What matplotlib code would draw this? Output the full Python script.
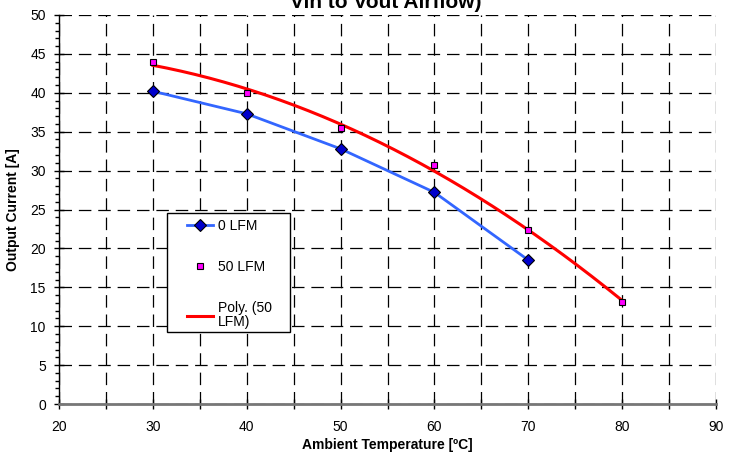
import numpy as np
import matplotlib
matplotlib.use("Agg")
import matplotlib.pyplot as plt
from matplotlib.ticker import MultipleLocator
from matplotlib.patches import Rectangle

plt.rcParams['font.family'] = ['Liberation Sans', 'DejaVu Sans']

temp_0 = [30, 40, 50, 60, 70]
curr_0 = [40.2, 37.3, 32.8, 27.2, 18.5]
temp_50 = [30, 40, 50, 60, 70, 80]
curr_50 = [43.9, 40.0, 35.5, 30.7, 22.4, 13.1]
labels = ["0 LFM", "50 LFM", "Poly. (50\nLFM)"]
title = "Vin to Vout Airflow)"
xlabel = "Ambient Temperature [ºC]"
ylabel = "Output Current [A]"

fig = plt.figure(figsize=(7.41, 4.53), dpi=100)
ax = fig.add_axes([59/741, 1-404/453, (716-59)/741, (404-15)/453])

coef = np.polyfit(temp_50, curr_50, 2)
xs = np.linspace(min(temp_50), max(temp_50), 200)
ys = np.polyval(coef, xs)

l0, = ax.plot(temp_0, curr_0, color='#3366FF', lw=2, marker='D', ms=6,
              mfc='#0000CC', mec='black', mew=0.8, zorder=4)
l50, = ax.plot(temp_50, curr_50, ls='none', marker='s', ms=5,
               mfc='#FF00FF', mec='black', mew=0.8, zorder=5)
lp, = ax.plot(xs, ys, color='#FF0000', lw=2.2, zorder=3)

ax.set_xlim(20, 90)
ax.set_ylim(0, 50)
ax.set_xticks(np.arange(20, 91, 5))
ax.set_xticklabels([str(v) if v % 10 == 0 else '' for v in range(20, 91, 5)])
ax.yaxis.set_major_locator(MultipleLocator(5))
ax.yaxis.set_minor_locator(MultipleLocator(1))
ax.tick_params(axis='both', which='major', direction='inout', length=7, width=1, labelsize=10, color='black')
ax.tick_params(axis='y', which='minor', direction='out', length=3, width=1, color='black')
ax.tick_params(axis='x', which='major', pad=8)
ax.tick_params(axis='y', which='major', pad=6)
ax.grid(True, which='major', color='black', ls=(0, (10, 5.5)), lw=0.9)
ax.set_axisbelow(True)

ax.spines['top'].set_visible(False)
ax.spines['right'].set_visible(False)
ax.spines['left'].set_color('black')
ax.spines['left'].set_linewidth(1)
ax.spines['bottom'].set_color('#777777')
ax.spines['bottom'].set_linewidth(2)

ax.set_xlabel(xlabel, fontsize=10, fontweight='bold', labelpad=3)
ax.set_ylabel(ylabel, fontsize=10, fontweight='bold', labelpad=7)

fig.text(0.52, 1-8/453, title, ha='center', va='baseline', fontsize=15, fontweight='bold')

# legend box
ax.add_patch(Rectangle(((167-59)/657, (404-332)/389), (290-167)/657, (332-213)/389,
                       transform=ax.transAxes, facecolor='white', edgecolor='black',
                       lw=1, zorder=6))
leg = ax.legend([l0, l50, lp], labels, loc='upper left',
                bbox_to_anchor=((187-59)/657, (404-219)/389),
                fontsize=10, frameon=False,
                labelspacing=1.95, handlelength=1.9, handletextpad=0.3, borderpad=0,
                borderaxespad=0)
for t in leg.get_texts():
    t.set_linespacing(0.95)
leg.set_zorder(7)

fig.savefig("out.png", dpi=100)
